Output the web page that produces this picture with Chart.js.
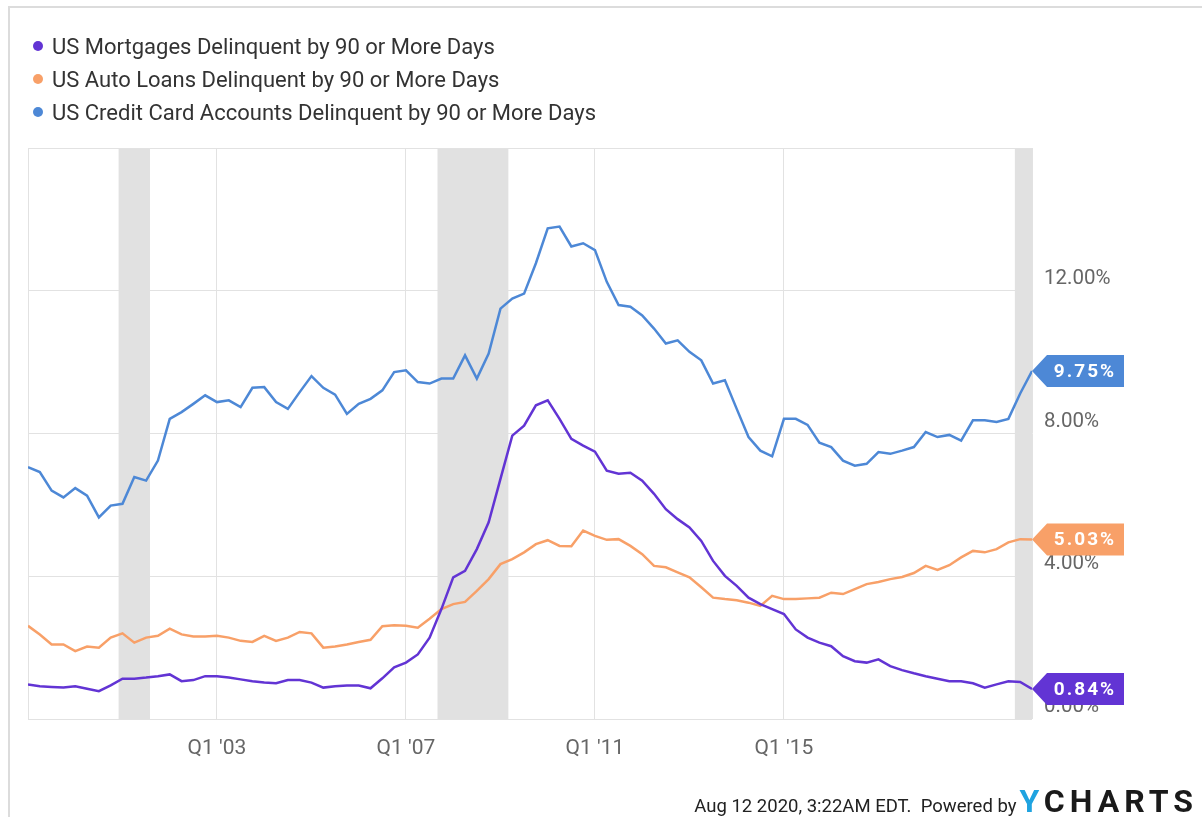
<!DOCTYPE html>
<html>
<head>
<meta charset="utf-8">
<script src="https://cdn.jsdelivr.net/npm/chart.js@4.4.0/dist/chart.umd.min.js"></script>
<style>
  body { margin: 0; background: #fff; font-family: Roboto, sans-serif; }
  #wrap { position: relative; width: 1202px; height: 817px; overflow: hidden; }
  #frame { position: absolute; left: 8px; top: 6px; width: 1300px; height: 900px; border-left: 2px solid #dcdcdc; border-top: 2px solid #dcdcdc; }
  canvas { position: absolute; left: 0; top: 0; }
  #legend { position: absolute; left: 33px; top: 30px; font-size: 22px; line-height: 33px; color: #333; }
  #legend .dot { display: inline-block; width: 10px; height: 10px; border-radius: 50%; margin-right: 9px; vertical-align: 3px; }
  #footer { position: absolute; right: 9px; top: 782px; display: flex; align-items: baseline; }
  #footer .stamp { font-size: 18.5px; color: #222; margin-right: 3px; }
  #footer .logo { font-size: 32px; font-weight: bold; letter-spacing: 5px; color: #1a1a1a; margin-right: -5px; }
  #footer .logo span { color: #1fa3e0; }
</style>
</head>
<body>
<div id="wrap">
  <div id="frame"></div>
  <canvas id="chart" width="1202" height="817"></canvas>
  <div id="legend"></div>
  <div id="footer"><span class="stamp">Aug 12 2020, 3:22AM EDT.&nbsp; Powered by</span><span class="logo"><span>Y</span>CHARTS</span></div>
</div>
<script>
// Quarterly, Q1 1999 .. Q2 2020 (86 quarters), values in %
const seriesNames = [
    'US Mortgages Delinquent by 90 or More Days',
    'US Auto Loans Delinquent by 90 or More Days',
    'US Credit Card Accounts Delinquent by 90 or More Days'
];
const seriesColors = ['#6234d4', '#f8a068', '#4d88d6'];

const mortgages = [
    0.97, 0.92, 0.90, 0.88, 0.92, 0.85, 0.78, 0.94, 1.13, 1.13, 1.16, 1.20, 1.25, 1.06, 1.09, 1.20,
    1.20, 1.16, 1.11, 1.06, 1.02, 1.00, 1.09, 1.09, 1.02, 0.88, 0.92, 0.94, 0.94, 0.86, 1.14, 1.45,
    1.58, 1.81, 2.28, 3.08, 3.97, 4.15, 4.76, 5.51, 6.73, 7.94, 8.22, 8.79, 8.93, 8.41, 7.85, 7.66,
    7.49, 6.96, 6.87, 6.90, 6.68, 6.31, 5.88, 5.60, 5.37, 4.99, 4.43, 4.01, 3.73, 3.40, 3.22, 3.08,
    2.94, 2.51, 2.28, 2.14, 2.04, 1.76, 1.62, 1.58, 1.67, 1.48, 1.37, 1.28, 1.20, 1.13, 1.06, 1.06,
    1.00, 0.88, 0.97, 1.06, 1.04, 0.84
];
const autoLoans = [
    2.61, 2.37, 2.09, 2.09, 1.90, 2.03, 2.00, 2.28, 2.40, 2.14, 2.28, 2.33, 2.53, 2.37, 2.31, 2.31,
    2.33, 2.28, 2.19, 2.16, 2.33, 2.19, 2.28, 2.44, 2.40, 2.00, 2.03, 2.09, 2.16, 2.22, 2.60, 2.63,
    2.61, 2.56, 2.81, 3.08, 3.22, 3.28, 3.59, 3.92, 4.34, 4.48, 4.67, 4.90, 5.01, 4.85, 4.84, 5.28,
    5.13, 5.02, 5.04, 4.85, 4.62, 4.29, 4.25, 4.11, 3.97, 3.69, 3.40, 3.36, 3.33, 3.26, 3.17, 3.45,
    3.36, 3.36, 3.38, 3.40, 3.54, 3.50, 3.64, 3.78, 3.84, 3.92, 3.98, 4.09, 4.29, 4.18, 4.31, 4.53,
    4.71, 4.67, 4.76, 4.95, 5.04, 5.03
];
const creditCards = [
    7.06, 6.92, 6.40, 6.21, 6.47, 6.26, 5.65, 5.98, 6.03, 6.78, 6.68, 7.24, 8.41, 8.60, 8.83, 9.07,
    8.88, 8.93, 8.74, 9.28, 9.30, 8.88, 8.69, 9.16, 9.61, 9.28, 9.09, 8.55, 8.83, 8.97, 9.21, 9.72,
    9.77, 9.44, 9.40, 9.54, 9.54, 10.19, 9.54, 10.24, 11.50, 11.78, 11.92, 12.77, 13.75, 13.80, 13.24, 13.33,
    13.14, 12.25, 11.60, 11.55, 11.31, 10.94, 10.52, 10.61, 10.29, 10.05, 9.40, 9.49, 8.69, 7.90, 7.52, 7.36,
    8.41, 8.41, 8.24, 7.74, 7.62, 7.24, 7.10, 7.15, 7.48, 7.43, 7.52, 7.62, 8.04, 7.90, 7.96, 7.80,
    8.37, 8.37, 8.32, 8.41, 9.12, 9.75
];

// x axis labels (quarter index from Q1 1999)
const tickIndex = [16, 32, 48, 64];
const tickLabels = ["Q1 '03", "Q1 '07", "Q1 '11", "Q1 '15"];

// recessions, in quarter index
const recessionStart = [7.67, 34.67, 83.55];
const recessionEnd = [10.33, 40.67, 85];

function toPoints(values) {
    return values.map((v, i) => ({ x: i, y: v }));
}

// legend
const legend = document.getElementById('legend');
seriesNames.forEach((name, i) => {
    legend.innerHTML += '<div><span class="dot" style="background:' + seriesColors[i] + '"></span>' + name + '</div>';
});

const recessionBands = {
    id: 'recessionBands',
    beforeDatasetsDraw(chart) {
        const { ctx, chartArea, scales: { x } } = chart;
        ctx.save();
        ctx.fillStyle = '#e1e1e1';
        for (let i = 0; i < recessionStart.length; i++) {
            const x0 = x.getPixelForValue(recessionStart[i]);
            const x1 = x.getPixelForValue(recessionEnd[i]);
            ctx.fillRect(x0, chartArea.top + 1, x1 - x0, chartArea.bottom - chartArea.top - 1);
        }
        ctx.restore();
    }
};

// coloured flags with the last value
const lastTags = {
    id: 'lastTags',
    afterDraw(chart) {
        const { ctx, chartArea, scales: { y } } = chart;
        ctx.save();
        chart.data.datasets.forEach((ds) => {
            const v = ds.data[ds.data.length - 1].y;
            const py = y.getPixelForValue(v);
            const tip = chartArea.right;
            ctx.beginPath();
            ctx.moveTo(tip, py);
            ctx.lineTo(tip + 15, py - 16);
            ctx.lineTo(tip + 92, py - 16);
            ctx.lineTo(tip + 92, py + 16);
            ctx.lineTo(tip + 15, py + 16);
            ctx.closePath();
            ctx.fillStyle = ds.borderColor;
            ctx.fill();
            ctx.fillStyle = '#fff';
            ctx.font = 'bold 19px Roboto';
            ctx.letterSpacing = '2px';
            ctx.textAlign = 'center';
            ctx.textBaseline = 'middle';
            ctx.fillText(v.toFixed(2) + '%', tip + 53, py + 1);
        });
        ctx.restore();
    }
};

new Chart(document.getElementById('chart'), {
    type: 'line',
    data: {
        datasets: [
            { label: seriesNames[0], data: toPoints(mortgages), borderColor: seriesColors[0] },
            { label: seriesNames[1], data: toPoints(autoLoans), borderColor: seriesColors[1] },
            { label: seriesNames[2], data: toPoints(creditCards), borderColor: seriesColors[2] },
        ],
    },
    options: {
        responsive: false,
        animation: false,
        layout: { padding: { left: 28, top: 148, right: 0, bottom: 48 } },
        elements: {
            line: { borderWidth: 2.5, tension: 0 },
            point: { radius: 0 },
        },
        plugins: {
            legend: { display: false },
            tooltip: { enabled: false },
        },
        scales: {
            x: {
                type: 'linear',
                min: 0,
                max: 85,
                afterBuildTicks: (scale) => {
                    scale.ticks = [0].concat(tickIndex, [85]).map((v) => ({ value: v }));
                },
                afterFit: (scale) => { scale.height = 50; },
                ticks: {
                    autoSkip: false,
                    maxRotation: 0,
                    padding: 17,
                    color: '#666',
                    font: { family: 'Roboto', size: 21 },
                    callback: (v) => {
                        const k = tickIndex.indexOf(v);
                        return k >= 0 ? tickLabels[k] : '';
                    },
                },
                grid: { color: '#e2e2e2', drawTicks: false },
                border: { display: false },
            },
            y: {
                position: 'right',
                min: 0,
                max: 16,
                afterFit: (scale) => { scale.width = 170; },
                ticks: {
                    stepSize: 4,
                    padding: 12,
                    labelOffset: -12,
                    color: '#666',
                    font: { family: 'Roboto', size: 20.5 },
                    callback: (v) => (v === 16 ? '' : v.toFixed(2) + '%'),
                },
                grid: { color: '#e2e2e2', drawTicks: false },
                border: { display: false },
            },
        },
    },
    plugins: [recessionBands, lastTags],
});
</script>
</body>
</html>
